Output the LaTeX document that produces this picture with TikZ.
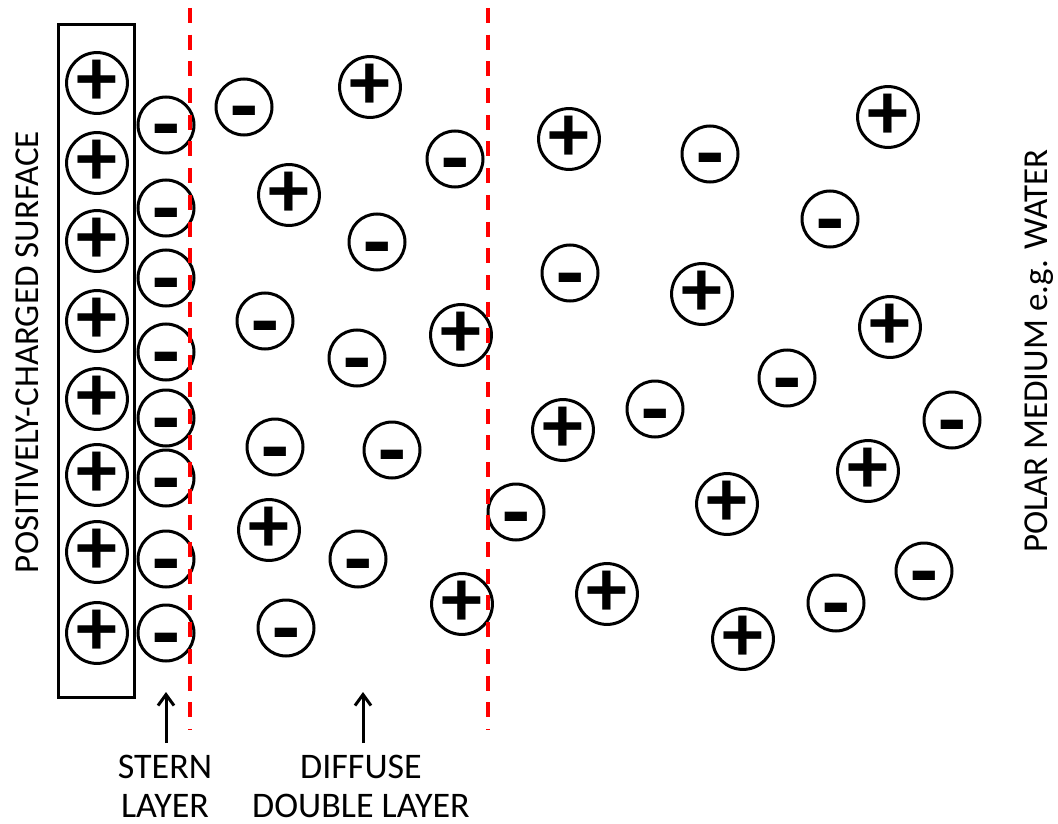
\documentclass[tikz,border=0pt]{standalone}
\usepackage{fontspec}
\setmainfont{Carlito}
\usetikzlibrary{arrows.meta}
\begin{document}
\begin{tikzpicture}[x=1pt,y=-1pt,
  ion/.style={circle,draw,line width=3pt,minimum size=56pt,inner sep=0pt},
  cation/.style={ion,font=\fontsize{82}{82}\selectfont\bfseries},
  anion/.style={ion,font=\fontsize{90}{90}\selectfont\bfseries,text height=0pt,text depth=0pt},
  divider/.style={draw=red,line width=3.5pt,dash pattern=on 15pt off 11.7pt},
  pointer/.style={line width=3pt,-{Straight Barb[length=11pt,width=16pt]}},
  caption/.style={font=\fontsize{36}{39}\selectfont,anchor=base,inner sep=0pt},
  sidelabel/.style={font=\fontsize{35}{39}\selectfont,anchor=base,rotate=90,inner sep=0pt}]
\useasboundingbox (0,0) rectangle (1058,824);

% charged surface
\node[draw,line width=3pt,minimum width=76pt,minimum height=672pt,inner sep=0pt] (surface) at (96,361) {};
\foreach \y [count=\k] in {83,163,241,321,399,475,552,633}
  \node[cation] (s\k) at (97,\y) {+};

% Stern layer counter-ions
\foreach \y [count=\k] in {125,208,278,352,418,478,559,633}
  \node[anion] (t\k) at (166,\y) {\raisebox{-30pt}{-}};

% free ions in the diffuse layer and bulk
\foreach \x/\y [count=\k] in {244/107,455/159,377/242,265/321,357/358,275/447,392/450,358/559,286/628,516/512,710/154,570/273,655/409,787/378,830/219,952/420,924/571,836/603}
  \node[anion] (n\k) at (\x,\y) {\raisebox{-30pt}{-}};
\foreach \x/\y [count=\k] in {370/87,289/195,461/335,269/530,462/604,569/139,702/294,563/430,727/504,607/594,743/639,888/117,890/327,868/471}
  \node[cation] (p\k) at (\x,\y) {+};

% layer boundaries
\coordinate (d1top) at (190,8);
\coordinate (d1bot) at (190,730);
\coordinate (d2top) at (488,8);
\coordinate (d2bot) at (488,730);
\draw[divider] (d1top) -- (d1bot);
\draw[divider] (d2top) -- (d2bot);

% pointers and captions
\coordinate (sternfoot) at (166,743);
\coordinate (sterntip) at (166,692);
\coordinate (difffoot) at (363,743);
\coordinate (difftip) at (363,692);
\draw[pointer] (sternfoot) -- (sterntip);
\draw[pointer] (difffoot) -- (difftip);

\node[caption] (stern1) at (165,778) {STERN};
\node[caption] (stern2) at (165,817) {LAYER};
\node[caption] (diff1) at (361,778) {DIFFUSE};
\node[caption] (diff2) at (361,817) {DOUBLE LAYER};

\node[sidelabel] (surflabel) at (38,352) {POSITIVELY-CHARGED SURFACE};
\node[sidelabel] (medlabel) at (1047,351) {POLAR MEDIUM e.g. WATER};
\end{tikzpicture}
\end{document}
